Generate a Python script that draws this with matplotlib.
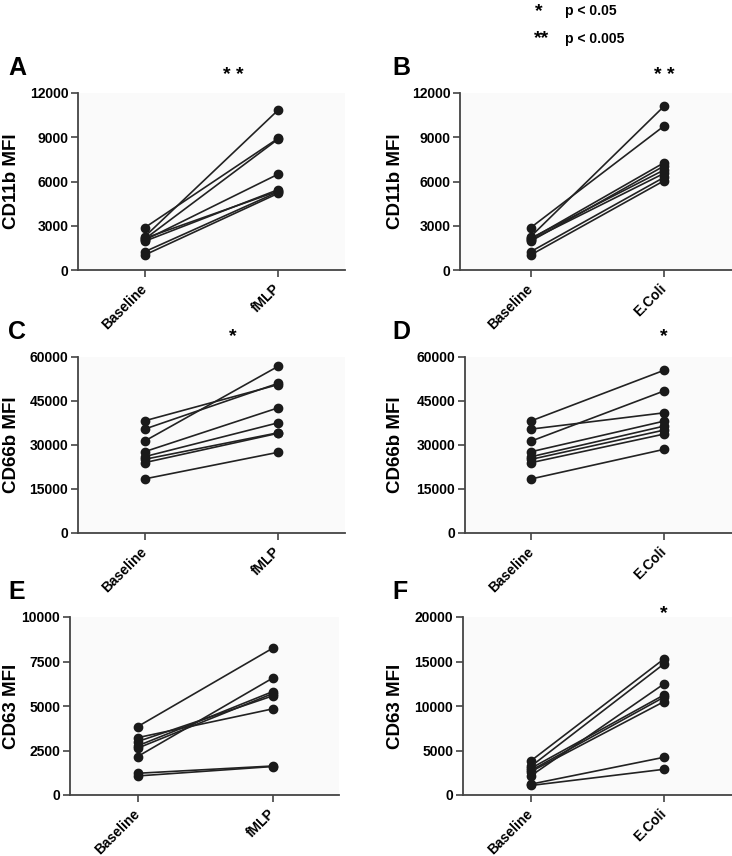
import numpy as np
import matplotlib
matplotlib.use("Agg")
import matplotlib.pyplot as plt

plt.rcParams["font.family"] = ["Liberation Sans", "DejaVu Sans"]
plt.rcParams["font.weight"] = "bold"

# CD11b, same donors for fMLP and E.Coli
cd11b_baseline = [2260, 2870, 2100, 2030, 1950, 2150, 1240, 1020]
cd11b_fmlp = [10850, 8930, 8880, 6500, 5450, 5350, 5300, 5200]
cd11b_ecoli = [11100, 9760, 7270, 6550, 7050, 6780, 6280, 6050]

# CD66b
cd66b_baseline = [38260, 35430, 31360, 27730, 26030, 25130, 24000, 18450]
cd66b_fmlp = [50600, 51050, 56850, 42680, 37580, 34180, 34000, 27520]
cd66b_ecoli = [55500, 40980, 48450, 38150, 36450, 35100, 33740, 28530]

# CD63
cd63_baseline = [3840, 3220, 3000, 2760, 2630, 2160, 1220, 1070]
cd63_fmlp = [8250, 4840, 5570, 5810, 5700, 6570, 1630, 1600]
cd63_ecoli = [15300, 14740, 11250, 11000, 10500, 12490, 4240, 2890]

groups_left = ["Baseline", "fMLP"]
groups_right = ["Baseline", "E.Coli"]

panels = [
    # letter, ylabel, before, after, xlabels, yticks, star, star_x, star_y, rect(px), xlim, label right edge(px)
    ("A", "CD11b MFI", cd11b_baseline, cd11b_fmlp, groups_left, [0, 3000, 6000, 9000, 12000], "* *", 0.66, 75, (78, 93, 345, 270), (-0.5, 1.5), 20),
    ("B", "CD11b MFI", cd11b_baseline, cd11b_ecoli, groups_right, [0, 3000, 6000, 9000, 12000], "* *", 1.0, 76, (460, 93, 732, 270), (-0.53, 1.51), 404),
    ("C", "CD66b MFI", cd66b_baseline, cd66b_fmlp, groups_left, [0, 15000, 30000, 45000, 60000], "*", 0.66, 337, (78, 357, 345, 533), (-0.5, 1.5), 20),
    ("D", "CD66b MFI", cd66b_baseline, cd66b_ecoli, groups_right, [0, 15000, 30000, 45000, 60000], "*", 1.0, 337, (465, 357, 732, 533), (-0.5, 1.51), 404),
    ("E", "CD63 MFI", cd63_baseline, cd63_fmlp, groups_left, [0, 2500, 5000, 7500, 10000], None, 0, 0, (70, 617, 339, 795), (-0.5, 1.49), 20),
    ("F", "CD63 MFI", cd63_baseline, cd63_ecoli, groups_right, [0, 5000, 10000, 15000, 20000], "*", 1.0, 614, (463, 617, 732, 795), (-0.51, 1.51), 404),
]

W, H = 732, 856
fig = plt.figure(figsize=(W / 100, H / 100), dpi=100)

for letter, ylab, before, after, xlabs, yticks, star, star_x, star_y, rect, xlim, lab_r in panels:
    l, t, r, b = rect
    ax = fig.add_axes([l / W, 1 - b / H, (r - l) / W, (b - t) / H])
    ax.set_facecolor("#fafafa")
    for y0, y1 in zip(before, after):
        ax.plot([0, 1], [y0, y1], color="#222222", lw=1.2, marker="o", ms=6,
                markerfacecolor="#1a1a1a", markeredgecolor="#1a1a1a", clip_on=False, zorder=3)
    ax.set_xlim(*xlim)
    ax.set_ylim(0, yticks[-1])
    ax.set_yticks(yticks)
    ax.set_xticks([0, 1])
    ax.set_xticklabels(xlabs, rotation=45, ha="right", va="center", rotation_mode="anchor",
                       fontsize=10, fontweight="bold")
    for lab in ax.get_yticklabels():
        lab.set_fontweight("bold")
        lab.set_fontsize(10)
    ax.tick_params(axis="both", direction="out", length=5, width=1.2, color="#444444", pad=2)
    ax.tick_params(axis="x", pad=7)
    for s in ["top", "right"]:
        ax.spines[s].set_visible(False)
    for s in ["left", "bottom"]:
        ax.spines[s].set_linewidth(1.3)
        ax.spines[s].set_color("#444444")
    ax.set_ylabel(ylab, fontsize=13.5, fontweight="bold")
    ax.yaxis.set_label_coords(-(l - lab_r) / (r - l), 0.5)

    fig.text((8 if l < 100 else 392) / W, 1 - (t - 18) / H, letter, fontsize=18,
             fontweight="bold", ha="left", va="baseline")
    if star:
        xpix = l + (star_x - xlim[0]) / (xlim[1] - xlim[0]) * (r - l)
        fig.text(xpix / W, 1 - star_y / H, star, fontsize=14, fontweight="bold",
                 ha="center", va="center")

# significance key
fig.text(539 / W, 1 - 12 / H, "*", fontsize=14, fontweight="bold", ha="center", va="center")
fig.text(565 / W, 1 - 11 / H, "p < 0.05", fontsize=10, fontweight="bold", ha="left", va="center")
fig.text(542 / W, 1 - 39 / H, "**", fontsize=14, fontweight="bold", ha="center", va="center")
fig.text(565 / W, 1 - 39 / H, "p < 0.005", fontsize=10, fontweight="bold", ha="left", va="center")

plt.savefig("out.png", dpi=100)
